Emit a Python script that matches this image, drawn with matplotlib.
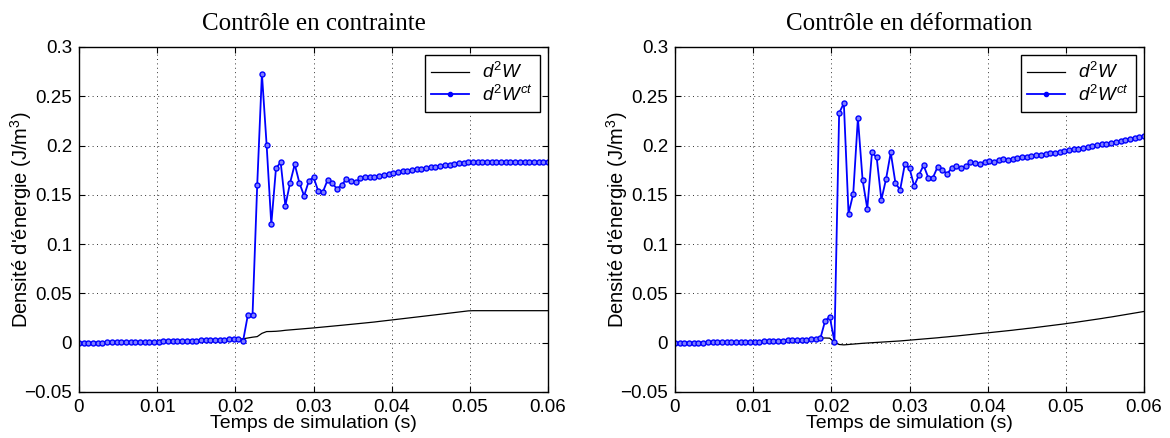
import numpy as np
import matplotlib
matplotlib.use("Agg")
import matplotlib.pyplot as plt

plt.rcParams['font.family'] = ['Liberation Sans', 'DejaVu Sans']
plt.rcParams['mathtext.fontset'] = 'custom'
plt.rcParams['mathtext.rm'] = 'Liberation Sans'
plt.rcParams['mathtext.it'] = 'Liberation Sans:italic'

# ---------------- data ----------------
n_steps = 101
time_s = [i * 0.0006 for i in range(n_steps)]

# left: "Contrôle en contrainte"
pre_left = [0.0000, 0.0000, 0.0001, 0.0001, 0.0002, 0.0002, 0.0003, 0.0003, 0.0004, 0.0005,
            0.0006, 0.0006, 0.0007, 0.0008, 0.0009, 0.0010, 0.0011, 0.0012, 0.0013, 0.0014,
            0.0015, 0.0017, 0.0018, 0.0019, 0.0021, 0.0022, 0.0024, 0.0025, 0.0027, 0.0028,
            0.0030, 0.0031, 0.0033, 0.0034, 0.0036]
ct_left = pre_left + [
    0.0022, 0.028, 0.028, 0.160, 0.273, 0.201, 0.120, 0.177, 0.183, 0.139,
    0.162, 0.181, 0.162, 0.149, 0.164, 0.168, 0.154, 0.153, 0.165, 0.162,
    0.156, 0.160, 0.166, 0.164, 0.163, 0.1666, 0.1680, 0.1683, 0.1686, 0.1693,
    0.1703, 0.1712, 0.1720, 0.1730, 0.1737, 0.1744, 0.1751, 0.1758, 0.1765, 0.1772,
    0.1779, 0.1786, 0.1793, 0.1800, 0.1807, 0.1814, 0.1821, 0.1828, 0.1835,
    0.1836, 0.1836, 0.1836, 0.1836, 0.1836, 0.1836, 0.1836, 0.1836, 0.1836, 0.1836,
    0.1836, 0.1836, 0.1836, 0.1836, 0.1836, 0.1836, 0.1836]
w_left = pre_left + [
    0.0040, 0.0048, 0.0056, 0.0062, 0.0095, 0.0113, 0.0114, 0.0116, 0.0120, 0.0126,
    0.0130, 0.0134, 0.0138, 0.0142, 0.0146, 0.0150, 0.01545, 0.0159, 0.01635, 0.0168,
    0.01725, 0.0177, 0.01817, 0.01864, 0.01911, 0.01958, 0.02005, 0.02053, 0.02101, 0.0216,
    0.02215, 0.0227, 0.02326, 0.02382, 0.02438, 0.02494, 0.0255, 0.02606, 0.02662, 0.02718,
    0.02774, 0.0283, 0.02887, 0.02944, 0.03001, 0.03058, 0.03115, 0.03172, 0.0323,
    0.0325, 0.0325, 0.0325, 0.0325, 0.0325, 0.0325, 0.0325, 0.0325, 0.0325, 0.0325,
    0.0325, 0.0325, 0.0325, 0.0325, 0.0325, 0.0325, 0.0325]

# right: "Contrôle en déformation"
pre_right = [0.0000, 0.0000, 0.0001, 0.0001, 0.0001, 0.0002, 0.0002, 0.0003, 0.0003, 0.0004,
             0.0005, 0.0005, 0.0006, 0.0007, 0.0008, 0.0009, 0.0010, 0.0011, 0.0012, 0.0014,
             0.0015, 0.0017, 0.0019, 0.0021, 0.0023, 0.0025, 0.0027, 0.0030, 0.0032, 0.0034,
             0.0038, 0.0045]
ct_right = pre_right + [
    0.022, 0.0264, 0.0010, 0.233, 0.243, 0.131, 0.151, 0.228, 0.165, 0.136,
    0.193, 0.188, 0.145, 0.166, 0.193, 0.162, 0.155, 0.181, 0.177, 0.159,
    0.170, 0.180, 0.1675, 0.1675, 0.1785, 0.1754, 0.1713, 0.177, 0.1795, 0.177,
    0.179, 0.183, 0.182, 0.181, 0.1835, 0.1841, 0.1831, 0.1858, 0.1865, 0.1858,
    0.1865, 0.1878, 0.1882, 0.1885, 0.1892, 0.1902, 0.1909, 0.1916, 0.1922, 0.1929,
    0.1936, 0.1946, 0.1953, 0.1963, 0.1970, 0.1976, 0.1986, 0.1993, 0.2003, 0.2013,
    0.2020, 0.2030, 0.2041, 0.2047, 0.2057, 0.2068, 0.2074, 0.2084, 0.2095]
w_right = pre_right + [
    0.0048, 0.0046, 0.0004, -0.0018, -0.0022, -0.0018, -0.0014, -0.0010, -0.0006, -0.0003,
    0.0000, 0.0003, 0.0006, 0.0009, 0.0012, 0.0015, 0.0018, 0.0022, 0.0026, 0.0030,
    0.0034, 0.0038, 0.0042, 0.0046, 0.0050, 0.0055, 0.0059, 0.0064, 0.0068, 0.0073,
    0.0078, 0.0083, 0.0088, 0.0093, 0.0098, 0.0102, 0.0107, 0.0112, 0.0117, 0.0122,
    0.0127, 0.0133, 0.0138, 0.0144, 0.0149, 0.0155, 0.0161, 0.0167, 0.0173, 0.0179,
    0.0185, 0.0191, 0.0198, 0.0204, 0.0211, 0.0218, 0.0225, 0.0232, 0.0239, 0.0246,
    0.0254, 0.0261, 0.0269, 0.0277, 0.0285, 0.0293, 0.0301, 0.0309, 0.0317]

titles = ["Contrôle en contrainte", "Contrôle en déformation"]
xticks = [0, 0.01, 0.02, 0.03, 0.04, 0.05, 0.06]
xticklabels = ['0', '0.01', '0.02', '0.03', '0.04', '0.05', '0.06']
yticks = [-0.05, 0, 0.05, 0.1, 0.15, 0.2, 0.25, 0.3]
yticklabels = ['\u22120.05', '0', '0.05', '0.1', '0.15', '0.2', '0.25', '0.3']
xlabel = "Temps de simulation (s)"
ylabel = "Densité d'énergie (J/m$^3$)"
legend_labels = [r"$d^2W$", r"$d^2W^{ct}$"]

# ---------------- figure ----------------
fig = plt.figure(figsize=(11.7, 4.38), dpi=100)
W, H = 1170, 438
boxes = [(79, 548), (675, 1144)]
top_px, bot_px = 47, 392

series = [(w_left, ct_left), (w_right, ct_right)]
for k, (x0, x1) in enumerate(boxes):
    ax = fig.add_axes([x0 / W, 1 - bot_px / H, (x1 - x0) / W, (bot_px - top_px) / H])
    w, ct = series[k]
    ax.plot(time_s, w, color='black', lw=0.9, label=legend_labels[0])
    ax.plot(time_s, ct, color='#0000ff', lw=1.3, marker='o', ms=3.6,
            mfc='#8080ff', mew=1.0, label=legend_labels[1])
    ax.set_xlim(0, 0.06)
    ax.set_ylim(-0.05, 0.3)
    ax.set_xticks(xticks)
    ax.set_xticklabels(xticklabels)
    ax.set_yticks(yticks)
    ax.set_yticklabels(yticklabels)
    ax.tick_params(direction='in', length=4, width=0.8, top=True, right=True,
                   labelsize=13.5, pad=5)
    ax.grid(True, linestyle=(0, (1, 3.5)), color='#333333', linewidth=0.7)
    for sp in ax.spines.values():
        sp.set_linewidth(1.0)
    ax.set_xlabel(xlabel, fontsize=14, labelpad=-1)
    ax.set_ylabel(ylabel, fontsize=14.5)
    ax.yaxis.set_label_coords(-45 / (x1 - x0), 0.5)
    ax.set_title(titles[k], fontsize=18, family=['Liberation Serif', 'DejaVu Serif'], pad=12)
    leg = ax.legend(loc='upper right', fontsize=13.5, frameon=True, fancybox=False,
                    edgecolor='black', framealpha=1, handlelength=2.0,
                    borderaxespad=0.45, labelspacing=0.15, handletextpad=0.7,
                    borderpad=0.35)
    leg.get_frame().set_linewidth(1.0)
    leg.legend_handles[1].set_markerfacecolor('#0000ff')
    leg.legend_handles[1].set_markersize(3)

fig.savefig("out.png", dpi=100)
